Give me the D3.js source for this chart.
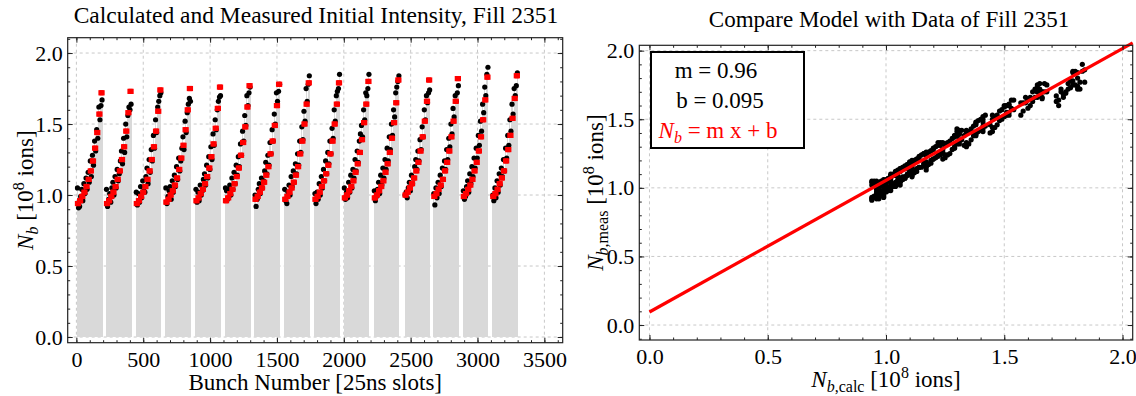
<!DOCTYPE html>
<html><head><meta charset="utf-8">
<script src="https://cdn.jsdelivr.net/npm/d3@7"></script>
<style>
body{margin:0;background:#fff}
text{font-family:"Liberation Serif","Times New Roman",serif;fill:#000}
</style>
</head><body>
<svg id="c" width="1136" height="396"></svg>
<script>
// ---------- data ----------
const leftTitle = "Calculated and Measured Initial Intensity, Fill 2351";
const rightTitle = "Compare Model with Data of Fill 2351";
const bunchSpacing = 8; // slots between bunches (200 ns)
const trainStart = [8, 225, 448, 669, 894, 1115, 1336, 1558, 1784, 2004, 2228, 2458, 2673, 2894, 3114];
// calculated intensity, one value per pair of bunches (12 per train)
const calcPerTrain = [
 [0.94,0.96,0.99,1.02,1.06,1.11,1.17,1.24,1.33,1.44,1.57,1.72],
 [0.94,0.96,0.99,1.02,1.06,1.11,1.17,1.25,1.34,1.45,1.58,1.73],
 [0.94,0.96,0.99,1.02,1.06,1.11,1.17,1.25,1.34,1.45,1.59,1.74],
 [0.95,0.97,1.00,1.03,1.07,1.12,1.18,1.26,1.35,1.46,1.60,1.75],
 [0.96,0.98,1.01,1.04,1.08,1.13,1.19,1.27,1.36,1.47,1.61,1.76],
 [0.96,0.98,1.01,1.04,1.08,1.13,1.19,1.28,1.37,1.48,1.62,1.77],
 [0.97,0.99,1.02,1.05,1.09,1.14,1.20,1.29,1.38,1.49,1.63,1.78],
 [0.97,0.99,1.02,1.05,1.09,1.14,1.20,1.29,1.38,1.50,1.64,1.79],
 [0.97,0.99,1.02,1.06,1.10,1.15,1.21,1.29,1.38,1.50,1.64,1.79],
 [0.98,1.00,1.03,1.06,1.10,1.16,1.22,1.30,1.39,1.51,1.64,1.80],
 [0.98,1.00,1.03,1.06,1.10,1.16,1.22,1.30,1.40,1.51,1.65,1.81],
 [1.00,1.02,1.05,1.08,1.12,1.17,1.23,1.31,1.41,1.52,1.66,1.81],
 [0.99,1.01,1.04,1.07,1.11,1.17,1.23,1.31,1.41,1.52,1.66,1.82],
 [0.99,1.01,1.04,1.07,1.11,1.17,1.23,1.31,1.41,1.53,1.67,1.83],
 [0.99,1.01,1.04,1.08,1.12,1.17,1.24,1.32,1.42,1.54,1.68,1.84]
];
// measured intensity, one value per bunch (24 per train)
const measPerTrain = [
 [1.05,0.91,0.92,0.99,1.04,0.96,1.08,1.01,1.12,1.04,1.16,1.09,1.24,1.13,1.28,1.21,1.38,1.31,1.46,1.40,1.62,1.53,1.63,1.67],
 [1.04,0.92,0.97,1.01,0.95,1.05,1.09,1.00,1.13,1.05,1.18,1.10,1.15,1.24,1.31,1.22,1.40,1.30,1.50,1.41,1.56,1.62,1.60,1.64],
 [1.02,0.93,1.01,0.95,1.06,0.98,1.10,1.03,1.02,1.13,1.19,1.08,1.25,1.16,1.32,1.24,1.42,1.33,1.53,1.44,1.62,1.66,1.70,1.72],
 [1.05,0.94,0.99,1.03,1.06,0.97,1.10,1.02,1.14,1.06,1.20,1.11,1.26,1.17,1.24,1.33,1.41,1.32,1.52,1.44,1.58,1.64,1.68,1.66],
 [1.04,0.95,1.02,0.96,1.07,1.00,1.03,1.11,1.15,1.07,1.21,1.12,1.27,1.18,1.34,1.25,1.43,1.35,1.53,1.46,1.60,1.66,1.69,1.70],
 [1.05,1.03,0.97,1.04,1.07,1.00,1.12,1.04,1.16,1.08,1.21,1.14,1.27,1.20,1.36,1.28,1.45,1.38,1.56,1.49,1.70,1.63,1.72,1.76],
 [1.00,0.92,0.97,1.04,1.08,1.01,1.12,1.05,1.10,1.17,1.23,1.15,1.28,1.21,1.37,1.29,1.46,1.38,1.57,1.50,1.72,1.66,1.73,1.78],
 [1.04,0.96,0.94,1.02,1.07,1.00,1.13,1.06,1.17,1.09,1.22,1.15,1.29,1.21,1.38,1.30,1.48,1.39,1.59,1.52,1.75,1.66,1.78,1.84],
 [1.01,0.94,1.02,0.97,1.08,1.00,1.13,1.05,1.18,1.10,1.24,1.15,1.30,1.22,1.38,1.29,1.47,1.40,1.60,1.52,1.70,1.73,1.75,1.85],
 [1.05,0.97,1.02,0.98,1.09,1.02,1.14,1.05,1.18,1.12,1.25,1.17,1.31,1.23,1.38,1.43,1.49,1.41,1.60,1.53,1.72,1.70,1.75,1.85],
 [1.03,0.96,0.99,1.04,1.09,1.01,1.14,1.07,1.19,1.12,1.25,1.18,1.33,1.24,1.41,1.32,1.50,1.42,1.60,1.55,1.72,1.76,1.80,1.84],
 [1.00,1.02,0.98,1.05,1.09,1.03,1.14,1.08,1.12,1.20,1.25,1.18,1.31,1.24,1.39,1.32,1.48,1.41,1.60,1.53,1.70,1.65,1.72,1.74],
 [1.01,0.93,1.05,0.98,1.09,1.01,1.14,1.06,1.19,1.11,1.24,1.18,1.32,1.25,1.40,1.34,1.50,1.43,1.61,1.55,1.70,1.66,1.72,1.77],
 [1.03,0.97,0.99,1.06,1.10,1.02,1.15,1.08,1.20,1.13,1.26,1.19,1.33,1.26,1.42,1.35,1.52,1.45,1.64,1.58,1.76,1.70,1.85,1.90],
 [1.00,0.96,1.05,0.98,1.10,1.02,1.15,1.07,1.19,1.13,1.25,1.17,1.33,1.26,1.42,1.35,1.53,1.45,1.64,1.57,1.75,1.70,1.77,1.86]
];
const leftXTicks = [0,500,1000,1500,2000,2500,3000,3500];
const leftYTicks = [0,0.5,1.0,1.5,2.0];
const rightXTicks = [0,0.5,1.0,1.5,2.0];
const rightYTicks = [0,0.5,1.0,1.5,2.0];
const fitSlope = 0.96;
const fitIntercept = 0.095;

// ---------- derived records ----------
const bunches = [];
trainStart.forEach((s,t)=>{
  measPerTrain[t].forEach((m,k)=>{
    bunches.push({slot: s + k*bunchSpacing, meas: m, calc: calcPerTrain[t][Math.floor(k/2)]});
  });
});

const svg = d3.select("#c");
const TICKFS = 22, LABFS = 23;

function gridLines(g, x, y, box, xt, yt){
  g.append("g").selectAll("line").data(xt).join("line")
    .attr("x1",d=>x(d)).attr("x2",d=>x(d)).attr("y1",box.t).attr("y2",box.b)
    .attr("stroke","#c8c8c8").attr("stroke-dasharray","3,3").attr("stroke-width",1);
  g.append("g").selectAll("line").data(yt).join("line")
    .attr("y1",d=>y(d)).attr("y2",d=>y(d)).attr("x1",box.l).attr("x2",box.r)
    .attr("stroke","#c8c8c8").attr("stroke-dasharray","3,3").attr("stroke-width",1);
}
function drawAxes(g, x, y, box, xt, yt, xMinor, yMinor, xfmt, yfmt){
  const style = a => { a.select(".domain").remove(); a.selectAll("line").attr("stroke","#222"); a.selectAll("text").style("font-size",TICKFS+"px").style("font-family",'"Liberation Serif",serif').attr("fill","#000"); };
  g.append("g").attr("transform",`translate(0,${box.b})`).call(d3.axisBottom(x).tickValues(xt).tickFormat(xfmt).tickSize(-5).tickPadding(8.5)).call(style);
  g.append("g").attr("transform",`translate(0,${box.b})`).call(d3.axisBottom(x).tickValues(xMinor).tickFormat("").tickSize(-2.5)).call(style);
  g.append("g").attr("transform",`translate(0,${box.t})`).call(d3.axisTop(x).tickValues(xt).tickFormat("").tickSize(-5)).call(style);
  g.append("g").attr("transform",`translate(0,${box.t})`).call(d3.axisTop(x).tickValues(xMinor).tickFormat("").tickSize(-2.5)).call(style);
  g.append("g").attr("transform",`translate(${box.l},0)`).call(d3.axisLeft(y).tickValues(yt).tickFormat(yfmt).tickSize(-5).tickPadding(5)).call(style);
  g.append("g").attr("transform",`translate(${box.l},0)`).call(d3.axisLeft(y).tickValues(yMinor).tickFormat("").tickSize(-2.5)).call(style);
  g.append("g").attr("transform",`translate(${box.r},0)`).call(d3.axisRight(y).tickValues(yt).tickFormat("").tickSize(-5)).call(style);
  g.append("g").attr("transform",`translate(${box.r},0)`).call(d3.axisRight(y).tickValues(yMinor).tickFormat("").tickSize(-2.5)).call(style);
  g.append("rect").attr("x",box.l).attr("y",box.t).attr("width",box.r-box.l).attr("height",box.b-box.t)
    .attr("fill","none").attr("stroke","#222").attr("stroke-width",1.2);
}
const minorRange = (a,b,st)=>d3.range(Math.round(a/st), Math.round(b/st)+1).map(i=>+(i*st).toFixed(4));
function nLabel(t, sub){
  t.append("tspan").style("font-style","italic").text("N");
  t.append("tspan").style("font-style","italic").style("font-size","16px").attr("dy",5).text("b");
  if (sub) t.append("tspan").style("font-size","16px").text(sub);
  t.append("tspan").attr("dy",-5).text(" [10");
  t.append("tspan").style("font-size","16px").attr("dy",-9).text("8");
  t.append("tspan").attr("dy",9).text(" ions]");
}

// ---------- LEFT ----------
const LB = {l:67.7, r:562.7, t:37.7, b:342.7};
const xL = d3.scaleLinear().domain([-65,3637]).range([LB.l,LB.r]);
const yL = d3.scaleLinear().domain([-0.04,2.108]).range([LB.b,LB.t]);
const gL = svg.append("g");
gridLines(gL, xL, yL, LB, leftXTicks, leftYTicks);
gL.append("g").attr("shape-rendering","crispEdges").selectAll("rect").data(bunches).join("rect")
  .attr("x",d=>xL(d.slot - bunchSpacing/2)).attr("width",d=>xL(d.slot+bunchSpacing/2)-xL(d.slot-bunchSpacing/2))
  .attr("y",d=>yL(d.meas)).attr("height",d=>yL(0)-yL(d.meas)).attr("fill","#d9d9d9");
gL.append("g").selectAll("circle").data(bunches).join("circle")
  .attr("cx",d=>xL(d.slot)).attr("cy",d=>yL(d.meas)).attr("r",2.6).attr("fill","#000");
const sq = 5.2;
gL.append("g").selectAll("rect").data(bunches).join("rect")
  .attr("x",d=>xL(d.slot)-sq/2).attr("y",d=>yL(d.calc)-sq/2).attr("width",sq).attr("height",sq).attr("fill","#f00");
drawAxes(gL, xL, yL, LB, leftXTicks, leftYTicks, minorRange(0,3600,100), minorRange(0,2.1,0.1), d3.format("d"), d3.format(".1f"));
gL.append("text").attr("x",316).attr("y",23).attr("text-anchor","middle").style("font-size","23.5px").text(leftTitle);
gL.append("text").attr("x",(LB.l+LB.r)/2).attr("y",390).attr("text-anchor","middle").style("font-size",LABFS+"px").text("Bunch Number [25ns slots]");
nLabel(gL.append("text").attr("transform",`translate(33,${(LB.t+LB.b)/2}) rotate(-90)`).attr("text-anchor","middle").style("font-size",LABFS+"px"), null);

// ---------- RIGHT ----------
const RB = {l:639.3, r:1132.7, t:45.3, b:340};
const xR = d3.scaleLinear().domain([-0.043,2.043]).range([RB.l,RB.r]);
const yR = d3.scaleLinear().domain([-0.109,2.039]).range([RB.b,RB.t]);
const gR = svg.append("g");
gridLines(gR, xR, yR, RB, rightXTicks, rightYTicks);
gR.append("g").selectAll("circle").data(bunches).join("circle")
  .attr("cx",d=>xR(d.calc)).attr("cy",d=>yR(d.meas)).attr("r",2.6).attr("fill","#000");
const fitX = [0, xR.domain()[1]];
gR.append("path").datum(fitX)
  .attr("d", d3.line().x(d=>xR(d)).y(d=>yR(fitSlope*d+fitIntercept)))
  .attr("stroke","#f00").attr("stroke-width",3.2).attr("fill","none");
drawAxes(gR, xR, yR, RB, rightXTicks, rightYTicks, minorRange(0,2.0,0.1), minorRange(-0.1,2.0,0.1), d3.format(".1f"), d3.format(".1f"));
gR.append("text").attr("x",(RB.l+RB.r)/2+3).attr("y",27).attr("text-anchor","middle").style("font-size","23px").text(rightTitle);
nLabel(gR.append("text").attr("x",(RB.l+RB.r)/2).attr("y",387).attr("text-anchor","middle").style("font-size",LABFS+"px"), ",calc");
nLabel(gR.append("text").attr("transform",`translate(603,${(RB.t+RB.b)/2}) rotate(-90)`).attr("text-anchor","middle").style("font-size",LABFS+"px"), ",meas");

// legend box
const lg = gR.append("g");
lg.append("rect").attr("x",651).attr("y",52).attr("width",153).attr("height",96).attr("fill","#fff").attr("stroke","#000").attr("stroke-width",2);
lg.append("text").attr("x",716).attr("y",78).attr("text-anchor","middle").style("font-size",LABFS+"px").text("m = " + fitSlope);
lg.append("text").attr("x",720).attr("y",108).attr("text-anchor","middle").style("font-size",LABFS+"px").text("b = " + fitIntercept);
{
  const t = lg.append("text").attr("x",718).attr("y",138).attr("text-anchor","middle").style("font-size",LABFS+"px").style("fill","#f00");
  t.append("tspan").style("font-style","italic").style("fill","#f00").text("N");
  t.append("tspan").style("font-style","italic").style("font-size","16px").style("fill","#f00").attr("dy",5).text("b");
  t.append("tspan").attr("dy",-5).style("fill","#f00").text(" = m x + b");
}
</script>
</body></html>
